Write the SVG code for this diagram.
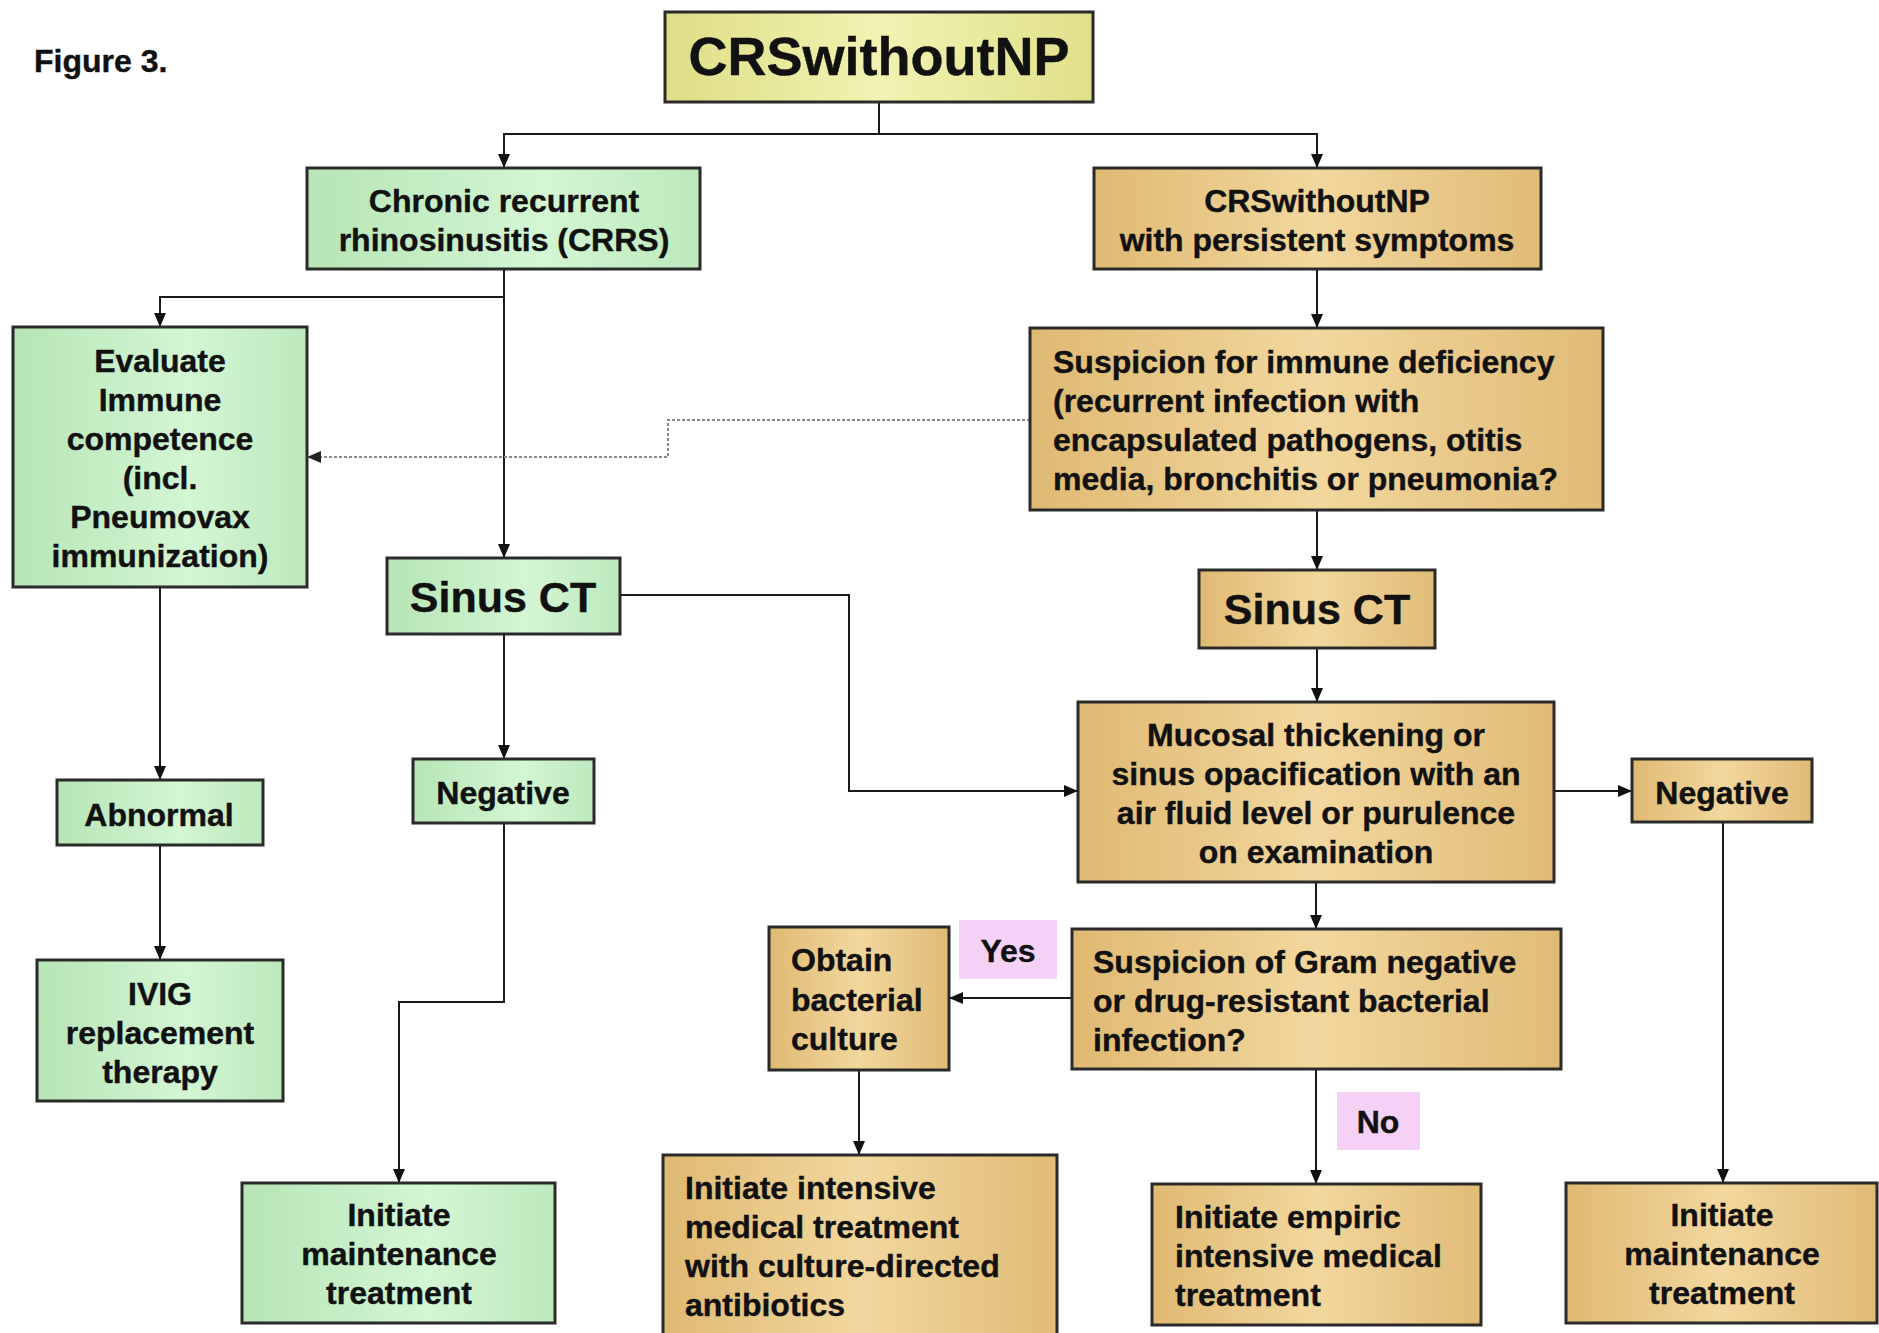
<svg xmlns="http://www.w3.org/2000/svg" width="1879" height="1333" viewBox="0 0 1879 1333">
<defs>
<linearGradient id="gGreen" x1="0" y1="0" x2="1" y2="0">
<stop offset="0" stop-color="#b6e5b6"/><stop offset="0.6" stop-color="#d3f6d3"/><stop offset="1" stop-color="#bde9bd"/>
</linearGradient>
<linearGradient id="gTan" x1="0" y1="0" x2="1" y2="0">
<stop offset="0" stop-color="#dfb972"/><stop offset="0.5" stop-color="#f2d79e"/><stop offset="1" stop-color="#e0bb76"/>
</linearGradient>
<linearGradient id="gTitle" x1="0" y1="0" x2="1" y2="0">
<stop offset="0" stop-color="#dede86"/><stop offset="0.5" stop-color="#f2f2b2"/><stop offset="1" stop-color="#e0e08a"/>
</linearGradient>
<marker id="arr" markerUnits="userSpaceOnUse" markerWidth="14" markerHeight="12" refX="14" refY="6" orient="auto">
<path d="M0,0 L14,6 L0,12 z" fill="#111"/>
</marker>
<marker id="arrG" markerUnits="userSpaceOnUse" markerWidth="14" markerHeight="12" refX="14" refY="6" orient="auto">
<path d="M0,0 L14,6 L0,12 z" fill="#222"/>
</marker>
</defs>
<style>
.box{stroke:#2a2a2a;stroke-width:3}
.green{fill:url(#gGreen)}
.tan{fill:url(#gTan)}
.title{fill:url(#gTitle)}
.lbl{fill:#f5d2f5}
text{font-family:"Liberation Sans",Arial,sans-serif;font-weight:bold;fill:#111;font-size:32px;stroke:#111;stroke-width:0.4}
.c{text-anchor:middle}
.big{font-size:43px}
.conn path{fill:none;stroke:#1a1a1a;stroke-width:2;marker-end:url(#arr)}
.conn path.dot{stroke:#8a8a8a;stroke-width:2;stroke-dasharray:3 2;marker-end:url(#arrG)}
</style>

<text id="figlabel" x="34" y="72" style="font-size:32px">Figure 3.</text>

<g class="conn" id="connectors">
<path d="M879,102 V134 H504 V168"/>
<path d="M879,134 H1317 V168"/>
<path d="M504,269 V297 H160 V327"/>
<path d="M504,269 V558"/>
<path class="dot" d="M1030,420 H668 V457 H307"/>
<path d="M1317,269 V328"/>
<path d="M1317,510 V570"/>
<path d="M1317,648 V702"/>
<path d="M620,595 H849 V791 H1078"/>
<path d="M1554,791 H1632"/>
<path d="M1723,822 V1183"/>
<path d="M1316,882 V929"/>
<path d="M1072,998 H949"/>
<path d="M1316,1069 V1184"/>
<path d="M859,1070 V1155"/>
<path d="M504,634 V759"/>
<path d="M504,823 V1002 H399 V1183"/>
<path d="M160,587 V780"/>
<path d="M160,845 V960"/>
</g>

<g id="n-title"><rect class="box title" x="665" y="12" width="428" height="90"/>
<text class="c" x="879" y="75" style="font-size:54px">CRSwithoutNP</text></g>

<g id="n-crrs"><rect class="box green" x="307" y="168" width="393" height="101"/>
<text class="c"><tspan x="504" y="212">Chronic recurrent</tspan><tspan x="504" y="251">rhinosinusitis (CRRS)</tspan></text></g>

<g id="n-crspersist"><rect class="box tan" x="1094" y="168" width="447" height="101"/>
<text class="c"><tspan x="1317" y="212">CRSwithoutNP</tspan><tspan x="1317" y="251">with persistent symptoms</tspan></text></g>

<g id="n-evaluate"><rect class="box green" x="13" y="327" width="294" height="260"/>
<text class="c"><tspan x="160" y="372">Evaluate</tspan><tspan x="160" y="411">Immune</tspan><tspan x="160" y="450">competence</tspan><tspan x="160" y="489">(incl.</tspan><tspan x="160" y="528">Pneumovax</tspan><tspan x="160" y="567">immunization)</tspan></text></g>

<g id="n-suspicion"><rect class="box tan" x="1030" y="328" width="573" height="182"/>
<text><tspan x="1053" y="373">Suspicion for immune deficiency</tspan><tspan x="1053" y="412">(recurrent infection with</tspan><tspan x="1053" y="451">encapsulated pathogens, otitis</tspan><tspan x="1053" y="490">media, bronchitis or pneumonia?</tspan></text></g>

<g id="n-sinusL"><rect class="box green" x="387" y="558" width="233" height="76"/>
<text class="c big" x="503" y="612">Sinus CT</text></g>

<g id="n-sinusR"><rect class="box tan" x="1199" y="570" width="236" height="78"/>
<text class="c big" x="1317" y="624">Sinus CT</text></g>

<g id="n-mucosal"><rect class="box tan" x="1078" y="702" width="476" height="180"/>
<text class="c"><tspan x="1316" y="746">Mucosal thickening or</tspan><tspan x="1316" y="785">sinus opacification with an</tspan><tspan x="1316" y="824">air fluid level or purulence</tspan><tspan x="1316" y="863">on examination</tspan></text></g>

<g id="n-negR"><rect class="box tan" x="1632" y="759" width="180" height="63"/>
<text class="c" x="1722" y="804">Negative</text></g>

<g id="n-negL"><rect class="box green" x="413" y="759" width="181" height="64"/>
<text class="c" x="503" y="804">Negative</text></g>

<g id="n-abnormal"><rect class="box green" x="57" y="780" width="206" height="65"/>
<text class="c" x="159" y="826">Abnormal</text></g>

<g id="n-ivig"><rect class="box green" x="37" y="960" width="246" height="141"/>
<text class="c"><tspan x="160" y="1005">IVIG</tspan><tspan x="160" y="1044">replacement</tspan><tspan x="160" y="1083">therapy</tspan></text></g>

<g id="n-obtain"><rect class="box tan" x="769" y="927" width="180" height="143"/>
<text><tspan x="791" y="971">Obtain</tspan><tspan x="791" y="1011">bacterial</tspan><tspan x="791" y="1050">culture</tspan></text></g>

<g id="n-gram"><rect class="box tan" x="1072" y="929" width="489" height="140"/>
<text><tspan x="1093" y="973">Suspicion of Gram negative</tspan><tspan x="1093" y="1012">or drug-resistant bacterial</tspan><tspan x="1093" y="1051">infection?</tspan></text></g>

<g id="l-yes"><rect class="lbl" x="959" y="920" width="98" height="59"/>
<text class="c" x="1008" y="962">Yes</text></g>

<g id="l-no"><rect class="lbl" x="1337" y="1092" width="83" height="58"/>
<text class="c" x="1378" y="1133">No</text></g>

<g id="n-intensive"><rect class="box tan" x="663" y="1155" width="394" height="200"/>
<text><tspan x="685" y="1199">Initiate intensive</tspan><tspan x="685" y="1238">medical treatment</tspan><tspan x="685" y="1277">with culture-directed</tspan><tspan x="685" y="1316">antibiotics</tspan></text></g>

<g id="n-empiric"><rect class="box tan" x="1152" y="1184" width="329" height="141"/>
<text><tspan x="1175" y="1228">Initiate empiric</tspan><tspan x="1175" y="1267">intensive medical</tspan><tspan x="1175" y="1306">treatment</tspan></text></g>

<g id="n-maintL"><rect class="box green" x="242" y="1183" width="313" height="140"/>
<text class="c"><tspan x="399" y="1226">Initiate</tspan><tspan x="399" y="1265">maintenance</tspan><tspan x="399" y="1304">treatment</tspan></text></g>

<g id="n-maintR"><rect class="box tan" x="1566" y="1183" width="311" height="140"/>
<text class="c"><tspan x="1722" y="1226">Initiate</tspan><tspan x="1722" y="1265">maintenance</tspan><tspan x="1722" y="1304">treatment</tspan></text></g>
</svg>
